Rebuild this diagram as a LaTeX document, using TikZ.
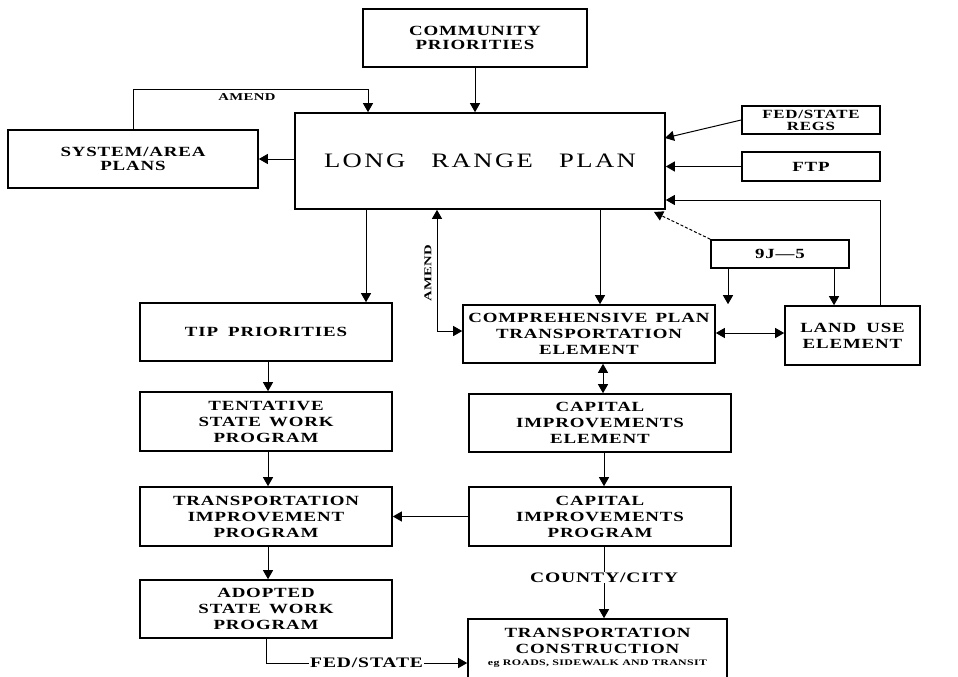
\documentclass[tikz,border=0pt]{standalone}
\usepackage{fontspec}
\setmainfont{Liberation Serif}
\newfontfamily\bx{Liberation Serif}[FakeStretch=1.35,LetterSpace=6]
\newfontfamily\bigf{Liberation Serif}[FakeStretch=1.3,LetterSpace=12]
\newfontfamily\smf{Liberation Serif}[FakeStretch=1.4,LetterSpace=4]
\usetikzlibrary{arrows.meta}
\begin{document}
\begin{tikzpicture}[x=1pt,y=-1pt,
  box/.style={draw,line width=1.6pt,inner sep=0pt,align=center,
    font=\bx\bfseries\fontsize{14}{16}\selectfont},
  lbl/.style={inner sep=1pt,font=\bx\bfseries\fontsize{14.5}{16}\selectfont},
  tiny/.style={inner sep=1pt,font=\smf\bfseries\fontsize{10.5}{11}\selectfont},
  conn/.style={line width=1pt},
  arr/.style={conn,-{Triangle[width=10pt,length=9pt]}},
  darr/.style={conn,{Triangle[width=10pt,length=9pt]}-{Triangle[width=10pt,length=9pt]}}]
\useasboundingbox (0,0) rectangle (958,677);
\clip (0,0) rectangle (958,677);
\fill[white] (0,0) rectangle (958,677);

% boxes
\node[box,minimum width=224pt,minimum height=58pt] (cp) at (475,38) {COMMUNITY\\[-2pt]PRIORITIES};
\node[box,minimum width=370pt,minimum height=96pt,font=\bigf\fontsize{20.5}{24}\selectfont] (lrp) at (480,161) {LONG\hspace{26pt}RANGE\hspace{26pt}PLAN};
\node[box,minimum width=250pt,minimum height=58pt] (sap) at (133,159) {SYSTEM/AREA\\[-2pt]PLANS};
\node[box,minimum width=138pt,minimum height=28pt,font=\bx\bfseries\fontsize{12.5}{12}\selectfont] (regs) at (811,120) {FED/STATE\\REGS};
\node[box,minimum width=138pt,minimum height=29pt] (ftp) at (811,166.5) {FTP};
\node[box,minimum width=138pt,minimum height=28pt] (nj) at (780,254) {9J—5};
\node[box,minimum width=252pt,minimum height=58pt] (comp) at (589,334) {COMPREHENSIVE\hspace{8pt}PLAN\\TRANSPORTATION\\ELEMENT};
\node[box,minimum width=135pt,minimum height=59pt] (lu) at (852.5,335.5) {LAND\hspace{10pt}USE\\ELEMENT};
\node[box,minimum width=252pt,minimum height=58pt] (tipp) at (266,332) {TIP\hspace{10pt}PRIORITIES};
\node[box,minimum width=252pt,minimum height=59pt] (tent) at (266,421.5) {TENTATIVE\\STATE\hspace{8pt}WORK\\PROGRAM};
\node[box,minimum width=252pt,minimum height=59pt] (tip) at (266,516.5) {TRANSPORTATION\\IMPROVEMENT\\PROGRAM};
\node[box,minimum width=252pt,minimum height=58pt] (adop) at (266,609) {ADOPTED\\STATE\hspace{8pt}WORK\\PROGRAM};
\node[box,minimum width=262pt,minimum height=58pt] (cie) at (600,423) {CAPITAL\\IMPROVEMENTS\\ELEMENT};
\node[box,minimum width=262pt,minimum height=59pt] (cip) at (600,516.5) {CAPITAL\\IMPROVEMENTS\\PROGRAM};
\node[box,minimum width=259pt,minimum height=88pt] (tc) at (597.5,663) {};
\node[align=center,inner sep=0pt,font=\bx\bfseries\fontsize{14}{15.5}\selectfont] (tct) at (597.5,648) {TRANSPORTATION\\CONSTRUCTION\\[-3pt]{\smf\bfseries\fontsize{8.5}{9}\selectfont eg ROADS, SIDEWALK AND TRANSIT}};

% bend points
\coordinate (am1) at (133,89);
\coordinate (am2) at (368,89);
\coordinate (regin) at (665,138);
\coordinate (luc) at (880,200);
\coordinate (lrpc) at (654,212);

% connectors
\draw[arr] (cp.south) -- (cp.south |- lrp.north);
\draw[arr] (sap.north) -- (am1) -- (am2) -- (am2 |- lrp.north);
\node[tiny] (amend) at (247,97) {AMEND};
\draw[arr] (lrp.west |- sap.east) -- (sap.east);
\draw[arr] (regs.west) -- (regin);
\draw[arr] (ftp.west) -- (ftp.west -| lrp.east);
\draw[arr] (lu.north -| luc) -- (luc) -- (luc -| lrp.east);
\draw[arr,dash pattern=on 3pt off 2pt] (nj.north west) -- (lrpc);
\draw[arr] ([xshift=-52pt]nj.south) -- ([xshift=-52pt]nj.south |- comp.north);
\draw[arr] ([xshift=54pt]nj.south) -- ([xshift=54pt]nj.south |- lu.north);
\draw[arr] ([xshift=120pt]lrp.south) -- ([xshift=120pt]lrp.south |- comp.north);
\draw[arr] ([xshift=-114pt]lrp.south) -- ([xshift=-114pt]lrp.south |- tipp.north);
\draw[darr] ([xshift=-43pt]lrp.south) |- ([yshift=3pt]comp.west);
\node[tiny,rotate=90] (amend2) at (428,273) {AMEND};
\draw[darr] ([yshift=1pt]comp.east) -- ([yshift=1pt]comp.east -| lu.west);
\draw[darr] ([xshift=14pt]comp.south) -- ([xshift=14pt]comp.south |- cie.north);
\draw[arr] ([xshift=4pt]cie.south) -- ([xshift=4pt]cip.north);
\draw[arr] (cip.west) -- (cip.west -| tip.east);
\draw[arr] ([xshift=4pt]cip.south) -- node[lbl,fill=white,pos=0.43] (cc) {COUNTY/CITY} ([xshift=4pt]cip.south |- tc.north);
\draw[arr] ([xshift=2pt]tipp.south) -- ([xshift=2pt]tent.north);
\draw[arr] ([xshift=2pt]tent.south) -- ([xshift=2pt]tip.north);
\draw[arr] ([xshift=2pt]tip.south) -- ([xshift=2pt]adop.north);
\draw[arr] (adop.south) |- node[lbl,fill=white,pos=0.75] (fs) {FED/STATE} (tc.west);
\end{tikzpicture}
\end{document}
